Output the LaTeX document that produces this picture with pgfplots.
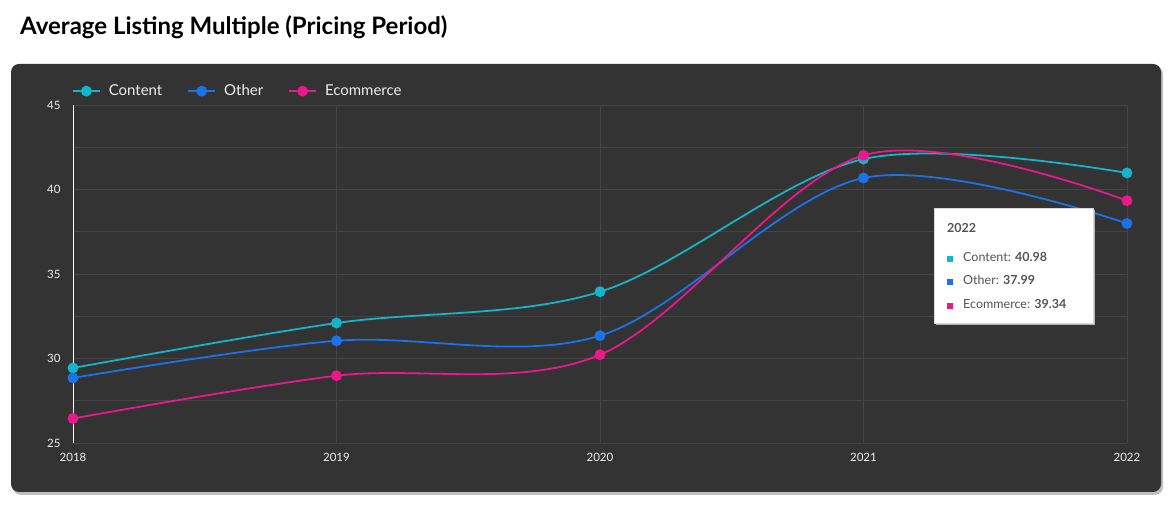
\documentclass[border=0pt]{standalone}
\usepackage{pgfplots}
\pgfplotsset{compat=1.18}
\usepackage{fontspec}
\setmainfont{Lato}
\definecolor{panel}{HTML}{333333}
\definecolor{gridc}{HTML}{444444}
\definecolor{ccontent}{HTML}{14B4CA}
\definecolor{cother}{HTML}{1A73E8}
\definecolor{cecom}{HTML}{E8198B}
\definecolor{ttext}{HTML}{555555}
\definecolor{ltext}{HTML}{EEEEEE}
\begin{document}
\begin{tikzpicture}[x=1pt,y=1pt]
\path[use as bounding box] (0,0) rectangle (1173,508);
\fill[black!25,rounded corners=8pt] (13,13) rectangle (1163,442);
\fill[panel,rounded corners=8pt] (11,16) rectangle (1161,444);
\node[anchor=base west,inner sep=0pt,font=\fontsize{24}{28}\selectfont\bfseries] at (20,473) {Average Listing Multiple (Pricing Period)};
\begin{axis}[
  at={(73pt,65pt)}, anchor=south west,
  scale only axis, width=1054pt, height=338pt,
  xmin=2018, xmax=2022, ymin=25, ymax=45,
  xtick={2018,2019,2020,2021,2022},
  ytick={25,30,35,40,45},
  minor ytick={27.5,32.5,37.5,42.5},
  grid=both,
  major grid style={gridc, line width=0.8pt},
  minor grid style={gridc, line width=0.8pt},
  major tick length=0pt, minor tick length=0pt,
  axis x line*=bottom, axis y line*=left,
  x axis line style={draw=gridc,-},
  y axis line style={draw=white,line width=1pt,-},
  /pgf/number format/1000 sep={},
  /pgf/number format/assume math mode=true,
  ticklabel style={font=\fontsize{11.5}{13}\selectfont, text=ltext},
  xticklabel style={yshift=-7pt},
  yticklabel style={xshift=-9pt},
  every axis plot/.append style={line width=1.8pt, smooth, tension=0.55, mark=*, mark size=4.5pt, mark options={solid}},
  legend style={at={(axis description cs:-0.004,1.041)}, anchor=west, draw=none, fill=none,
    legend columns=-1, font=\fontsize{15}{18}\selectfont, text=ltext,
    /tikz/every odd column/.append style={column sep=6pt},
    /tikz/every even column/.append style={column sep=23pt}},
  legend image code/.code={\draw[mark repeat=2,mark phase=2,#1] plot coordinates {(0pt,0pt) (13.5pt,0pt) (27pt,0pt)};},
  clip=false,
]
\addplot[color=ccontent] coordinates {(2018,29.44) (2019,32.10) (2020,33.95) (2021,41.80) (2022,40.98)};
\addlegendentry{Content}
\addplot[color=cother] coordinates {(2018,28.85) (2019,31.05) (2020,31.35) (2021,40.68) (2022,37.99)};
\addlegendentry{Other}
\addplot[color=cecom] coordinates {(2018,26.45) (2019,28.98) (2020,30.22) (2021,42.02) (2022,39.34)};
\addlegendentry{Ecommerce}
\end{axis}
\fill[black!30] (936,183) rectangle (1095,298);
\fill[white,draw=black!15] (934,185) rectangle (1093,300);
\node[anchor=west,inner sep=0pt,font=\fontsize{12.5}{15}\selectfont\bfseries,text=ttext] at (947,280) {2022};
\node[anchor=west,inner sep=0pt,font=\fontsize{12.5}{15}\selectfont,text=ttext] at (947,251) {\textcolor{ccontent}{\rule{6pt}{6pt}}\hspace{10pt}Content: \textbf{40.98}};
\node[anchor=west,inner sep=0pt,font=\fontsize{12.5}{15}\selectfont,text=ttext] at (947,228) {\textcolor{cother}{\rule{6pt}{6pt}}\hspace{10pt}Other: \textbf{37.99}};
\node[anchor=west,inner sep=0pt,font=\fontsize{12.5}{15}\selectfont,text=ttext] at (947,204) {\textcolor{cecom}{\rule{6pt}{6pt}}\hspace{10pt}Ecommerce: \textbf{39.34}};
\end{tikzpicture}
\end{document}
